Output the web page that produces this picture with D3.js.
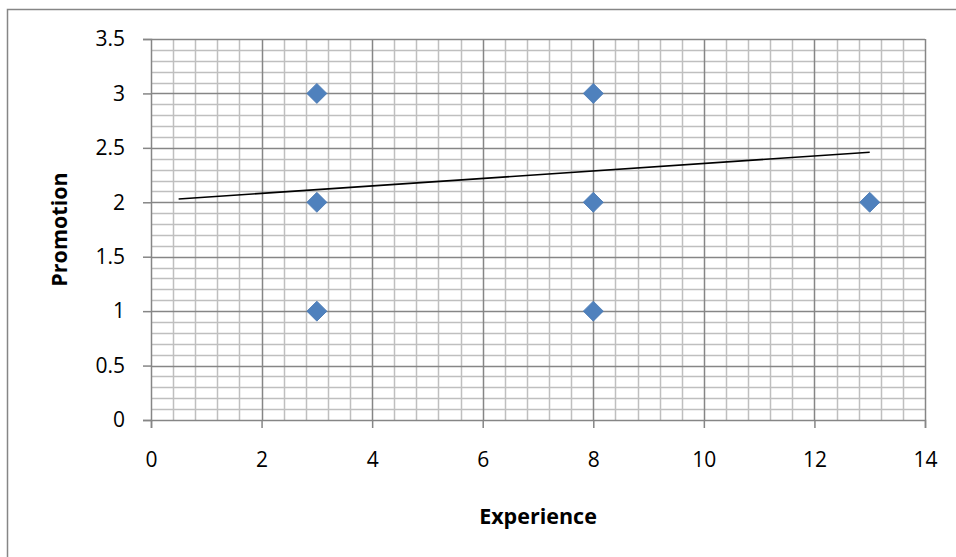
<!DOCTYPE html>
<html>
<head>
<meta charset="utf-8">
<script src="https://cdn.jsdelivr.net/npm/d3@7"></script>
<style>
  html, body { margin: 0; padding: 0; background: #fff; }
  svg { display: block; font-family: "Open Sans", "Liberation Sans", sans-serif; }
</style>
</head>
<body>
<svg id="chart" width="956" height="557"></svg>
<script>
// Scatter data: years of experience vs promotion count
const experience = [3, 3, 3, 8, 8, 8, 13];
const promotion  = [3, 2, 1, 3, 2, 1, 2];

// Linear trendline endpoints
const trendX = [0.5, 13];
const trendY = [2.03, 2.46];

// Axis ticks
const xTicks = [0, 2, 4, 6, 8, 10, 12, 14];
const yTicks = [0, 0.5, 1, 1.5, 2, 2.5, 3, 3.5];

const svg = d3.select("#chart");

const plot = { left: 151, right: 925, top: 39, bottom: 420 };

const x = d3.scaleLinear().domain([0, 14]).range([plot.left, plot.right]);
const y = d3.scaleLinear().domain([0, 3.5]).range([plot.bottom, plot.top]);

// Outer chart frame
svg.append("rect")
  .attr("x", 7.5).attr("y", 9.5)
  .attr("width", 960).attr("height", 560)
  .attr("fill", "#fff")
  .attr("stroke", "#868686").attr("stroke-width", 1.5);

// Minor gridlines
const xMinor = d3.range(0, 14.0001, 0.4).filter(v => Math.abs(v / 2 - Math.round(v / 2)) > 1e-6);
const yMinor = d3.range(0, 3.5001, 0.1).filter(v => Math.abs(v / 0.5 - Math.round(v / 0.5)) > 1e-6);

const grid = svg.append("g");
grid.selectAll("line.xm").data(xMinor).join("line")
  .attr("x1", d => Math.round(x(d)) + 0.5).attr("x2", d => Math.round(x(d)) + 0.5)
  .attr("y1", plot.top).attr("y2", plot.bottom)
  .attr("stroke", "#bfbfbf").attr("stroke-width", 1.5);
grid.selectAll("line.ym").data(yMinor).join("line")
  .attr("y1", d => Math.round(y(d)) + 0.5).attr("y2", d => Math.round(y(d)) + 0.5)
  .attr("x1", plot.left).attr("x2", plot.right)
  .attr("stroke", "#bfbfbf").attr("stroke-width", 1.5);

// Major gridlines
grid.selectAll("line.xM").data(xTicks.slice(1)).join("line")
  .attr("x1", d => Math.round(x(d)) + 0.5).attr("x2", d => Math.round(x(d)) + 0.5)
  .attr("y1", plot.top).attr("y2", plot.bottom)
  .attr("stroke", "#868686").attr("stroke-width", 1.5);
grid.selectAll("line.yM").data(yTicks.slice(1)).join("line")
  .attr("y1", d => Math.round(y(d)) + 0.5).attr("y2", d => Math.round(y(d)) + 0.5)
  .attr("x1", plot.left).attr("x2", plot.right)
  .attr("stroke", "#868686").attr("stroke-width", 1.5);

// Axes
const xAxis = svg.append("g")
  .attr("transform", `translate(0,${plot.bottom})`)
  .call(d3.axisBottom(x).tickValues(xTicks).tickSize(8).tickPadding(24).tickFormat(d3.format("")));
const yAxis = svg.append("g")
  .attr("transform", `translate(${plot.left},0)`)
  .call(d3.axisLeft(y).tickValues(yTicks).tickSize(8).tickPadding(18).tickFormat(d3.format("")));

[xAxis, yAxis].forEach(a => {
  a.select(".domain").attr("stroke", "#868686").attr("stroke-width", 1.5);
  a.selectAll(".tick line").attr("stroke", "#868686").attr("stroke-width", 1.5);
  a.selectAll(".tick text").attr("fill", "#000").attr("font-size", 21)
    .attr("font-family", '"Open Sans", sans-serif');
});

// Trendline
svg.append("line")
  .attr("x1", x(trendX[0])).attr("y1", y(trendY[0]))
  .attr("x2", x(trendX[1])).attr("y2", y(trendY[1]))
  .attr("stroke", "#000").attr("stroke-width", 1.6);

// Diamond markers
const diamond = d3.symbol().type(d3.symbolSquare).size(200);
svg.append("g").selectAll("path").data(experience.map((e, i) => [e, promotion[i]])).join("path")
  .attr("d", diamond)
  .attr("transform", d => `translate(${x(d[0])},${y(d[1])}) rotate(45)`)
  .attr("fill", "#4f81bd")
  .attr("stroke", "#4a7ab3").attr("stroke-width", 0.8);

// Axis titles
svg.append("text")
  .attr("x", (plot.left + plot.right) / 2).attr("y", 524)
  .attr("text-anchor", "middle")
  .attr("font-size", 21.5).attr("font-weight", "bold")
  .text("Experience");
svg.append("text")
  .attr("transform", `translate(67,${(plot.top + plot.bottom) / 2}) rotate(-90)`)
  .attr("text-anchor", "middle")
  .attr("font-size", 21.5).attr("font-weight", "bold")
  .text("Promotion");
</script>
</body>
</html>
